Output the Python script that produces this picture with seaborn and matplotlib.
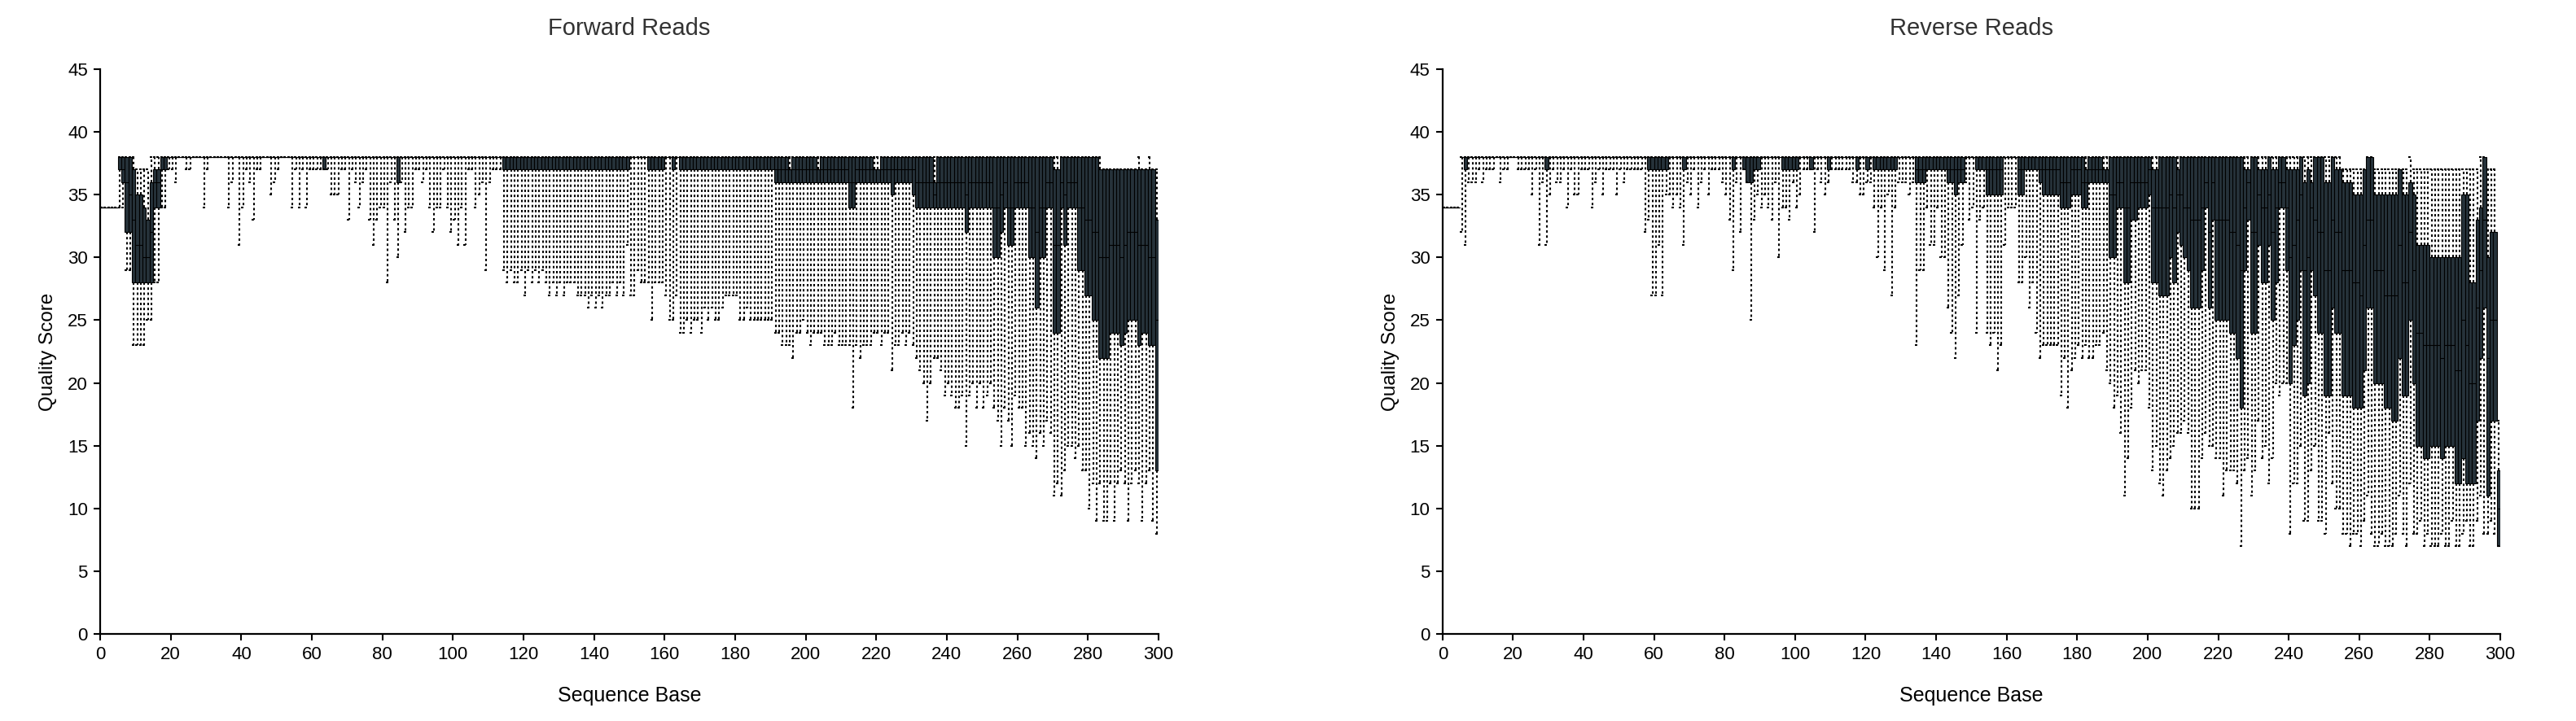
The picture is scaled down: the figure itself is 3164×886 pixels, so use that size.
"""Per-base quality score box plots for forward and reverse reads."""
import numpy as np
import pandas as pd
import matplotlib
matplotlib.use('Agg')
import matplotlib.pyplot as plt
import seaborn as sns

# ---------------------------------------------------------------------------
# Forward reads: 9th / 25th / 50th / 75th / 91st percentile per sequence base
# (20 bases per row, bases 1..300)
# ---------------------------------------------------------------------------
fwd_lo = [
    34, 34, 34, 34, 34, 34, 34, 29, 29, 23, 23, 23, 23, 25, 25, 28, 28, 34, 34, 37,
    37, 36, 38, 38, 37, 37, 38, 38, 38, 34, 37, 38, 38, 38, 38, 38, 34, 36, 38, 31,
    34, 37, 36, 33, 37, 37, 38, 38, 35, 36, 37, 38, 38, 38, 34, 37, 34, 37, 34, 37,
    37, 37, 37, 37, 37, 35, 35, 35, 37, 37, 33, 37, 36, 34, 36, 37, 33, 31, 33, 34,
    34, 28, 36, 33, 30, 36, 32, 34, 34, 37, 37, 36, 37, 34, 32, 34, 34, 37, 34, 32,
    33, 31, 34, 31, 37, 37, 34, 35, 36, 29, 36, 37, 37, 37, 29, 28, 29, 28, 28, 29,
    27, 29, 28, 29, 28, 29, 28, 27, 28, 27, 28, 27, 28, 28, 28, 27, 27, 27, 26, 27,
    26, 27, 26, 27, 27, 28, 27, 28, 27, 31, 27, 27, 29, 28, 28, 28, 25, 28, 28, 28,
    27, 25, 25, 27, 24, 24, 25, 24, 25, 25, 24, 26, 25, 26, 25, 25, 26, 27, 27, 27,
    27, 25, 25, 26, 25, 25, 25, 25, 25, 25, 25, 24, 24, 23, 23, 23, 22, 24, 24, 25,
    24, 23, 24, 24, 24, 23, 23, 23, 24, 23, 23, 23, 23, 18, 23, 22, 23, 23, 23, 24,
    24, 23, 24, 24, 21, 23, 23, 24, 23, 24, 23, 22, 21, 20, 17, 20, 22, 22, 21, 19,
    20, 19, 18, 18, 19, 15, 19, 20, 18, 20, 18, 19, 20, 18, 17, 15, 18, 17, 15, 19,
    18, 18, 15, 16, 15, 14, 16, 15, 17, 16, 11, 12, 11, 13, 15, 15, 14, 15, 13, 13,
    10, 12, 9, 12, 9, 9, 12, 9, 12, 13, 12, 9, 12, 13, 12, 9, 12, 13, 9, 8,
]
fwd_q1 = [
    34, 34, 34, 34, 34, 37, 36, 32, 32, 28, 28, 28, 28, 28, 28, 34, 34, 37, 37, 38,
    38, 38, 38, 38, 38, 38, 38, 38, 38, 38, 38, 38, 38, 38, 38, 38, 38, 38, 38, 38,
    38, 38, 38, 38, 38, 38, 38, 38, 38, 38, 38, 38, 38, 38, 38, 38, 38, 38, 38, 38,
    38, 38, 38, 37, 38, 38, 38, 38, 38, 38, 38, 38, 38, 38, 38, 38, 38, 38, 38, 38,
    38, 38, 38, 38, 36, 38, 38, 38, 38, 38, 38, 38, 38, 38, 38, 38, 38, 38, 38, 38,
    38, 38, 38, 38, 38, 38, 38, 38, 38, 38, 38, 38, 38, 38, 37, 37, 37, 37, 37, 37,
    37, 37, 37, 37, 37, 37, 37, 37, 37, 37, 37, 37, 37, 37, 37, 37, 37, 37, 37, 37,
    37, 37, 37, 37, 37, 37, 37, 37, 37, 37, 38, 38, 38, 38, 38, 37, 37, 37, 37, 37,
    38, 38, 37, 38, 37, 37, 37, 37, 37, 37, 37, 37, 37, 37, 37, 37, 37, 37, 37, 37,
    37, 37, 37, 37, 37, 37, 37, 37, 37, 37, 37, 36, 36, 36, 36, 36, 36, 36, 36, 36,
    36, 36, 36, 36, 36, 36, 36, 36, 36, 36, 36, 36, 34, 34, 36, 36, 36, 36, 36, 36,
    36, 36, 36, 36, 35, 36, 36, 36, 36, 36, 35, 34, 34, 34, 34, 34, 34, 34, 34, 34,
    34, 34, 34, 34, 34, 32, 34, 34, 34, 34, 34, 34, 34, 30, 30, 32, 34, 31, 31, 34,
    34, 34, 34, 30, 30, 26, 30, 30, 34, 34, 24, 24, 34, 31, 34, 34, 34, 29, 29, 27,
    27, 25, 25, 22, 22, 22, 24, 24, 24, 23, 24, 25, 25, 25, 23, 24, 24, 23, 23, 13,
]
fwd_med = [
    34, 34, 34, 34, 34, 38, 37, 36, 35, 33, 31, 31, 30, 30, 32, 36, 36, 38, 38, 38,
    38, 38, 38, 38, 38, 38, 38, 38, 38, 38, 38, 38, 38, 38, 38, 38, 38, 38, 38, 38,
    38, 38, 38, 38, 38, 38, 38, 38, 38, 38, 38, 38, 38, 38, 38, 38, 38, 38, 38, 38,
    38, 38, 38, 38, 38, 38, 38, 38, 38, 38, 38, 38, 38, 38, 38, 38, 38, 38, 38, 38,
    38, 38, 38, 38, 38, 38, 38, 38, 38, 38, 38, 38, 38, 38, 38, 38, 38, 38, 38, 38,
    38, 38, 38, 38, 38, 38, 38, 38, 38, 38, 38, 38, 38, 38, 38, 38, 38, 38, 38, 38,
    38, 38, 38, 38, 38, 38, 38, 38, 38, 38, 38, 38, 38, 38, 38, 38, 38, 38, 38, 38,
    38, 38, 38, 38, 38, 38, 38, 38, 38, 38, 38, 38, 38, 38, 38, 38, 38, 38, 38, 38,
    38, 38, 38, 38, 38, 38, 38, 38, 38, 38, 38, 38, 38, 38, 38, 38, 38, 38, 38, 38,
    38, 38, 38, 38, 38, 38, 38, 38, 38, 38, 38, 37, 37, 37, 37, 37, 37, 37, 37, 37,
    37, 37, 37, 37, 37, 37, 37, 37, 37, 37, 37, 37, 36, 36, 37, 37, 37, 37, 37, 37,
    37, 37, 37, 37, 37, 37, 37, 37, 37, 37, 37, 36, 36, 36, 36, 36, 35, 36, 36, 36,
    36, 36, 36, 36, 36, 35, 36, 36, 36, 36, 36, 36, 36, 34, 34, 35, 36, 34, 34, 36,
    36, 36, 36, 34, 34, 32, 34, 34, 36, 36, 31, 31, 36, 35, 36, 36, 36, 34, 34, 33,
    33, 32, 32, 30, 30, 30, 31, 31, 31, 30, 31, 32, 32, 32, 31, 31, 31, 30, 30, 25,
]
fwd_q3 = [
    34, 34, 34, 34, 34, 38, 38, 38, 38, 37, 35, 35, 34, 33, 36, 37, 37, 38, 38, 38,
    38, 38, 38, 38, 38, 38, 38, 38, 38, 38, 38, 38, 38, 38, 38, 38, 38, 38, 38, 38,
    38, 38, 38, 38, 38, 38, 38, 38, 38, 38, 38, 38, 38, 38, 38, 38, 38, 38, 38, 38,
    38, 38, 38, 38, 38, 38, 38, 38, 38, 38, 38, 38, 38, 38, 38, 38, 38, 38, 38, 38,
    38, 38, 38, 38, 38, 38, 38, 38, 38, 38, 38, 38, 38, 38, 38, 38, 38, 38, 38, 38,
    38, 38, 38, 38, 38, 38, 38, 38, 38, 38, 38, 38, 38, 38, 38, 38, 38, 38, 38, 38,
    38, 38, 38, 38, 38, 38, 38, 38, 38, 38, 38, 38, 38, 38, 38, 38, 38, 38, 38, 38,
    38, 38, 38, 38, 38, 38, 38, 38, 38, 38, 38, 38, 38, 38, 38, 38, 38, 38, 38, 38,
    38, 38, 38, 38, 38, 38, 38, 38, 38, 38, 38, 38, 38, 38, 38, 38, 38, 38, 38, 38,
    38, 38, 38, 38, 38, 38, 38, 38, 38, 38, 38, 38, 38, 38, 38, 37, 38, 38, 38, 38,
    38, 38, 38, 37, 38, 38, 38, 38, 38, 38, 38, 38, 38, 38, 38, 38, 38, 38, 38, 37,
    37, 38, 38, 38, 38, 38, 38, 38, 38, 38, 38, 38, 38, 38, 38, 38, 36, 38, 38, 38,
    38, 38, 38, 38, 38, 38, 38, 38, 38, 38, 38, 38, 38, 38, 38, 38, 38, 38, 38, 38,
    38, 38, 38, 38, 38, 38, 38, 38, 38, 38, 37, 37, 38, 38, 38, 38, 38, 38, 38, 38,
    38, 38, 38, 37, 37, 37, 37, 37, 37, 37, 37, 37, 37, 37, 37, 37, 37, 37, 37, 33,
]
fwd_hi = [
    34, 34, 34, 34, 34, 38, 38, 38, 38, 38, 37, 37, 37, 37, 38, 38, 38, 38, 38, 38,
    38, 38, 38, 38, 38, 38, 38, 38, 38, 38, 38, 38, 38, 38, 38, 38, 38, 38, 38, 38,
    38, 38, 38, 38, 38, 38, 38, 38, 38, 38, 38, 38, 38, 38, 38, 38, 38, 38, 38, 38,
    38, 38, 38, 38, 38, 38, 38, 38, 38, 38, 38, 38, 38, 38, 38, 38, 38, 38, 38, 38,
    38, 38, 38, 38, 38, 38, 38, 38, 38, 38, 38, 38, 38, 38, 38, 38, 38, 38, 38, 38,
    38, 38, 38, 38, 38, 38, 38, 38, 38, 38, 38, 38, 38, 38, 38, 38, 38, 38, 38, 38,
    38, 38, 38, 38, 38, 38, 38, 38, 38, 38, 38, 38, 38, 38, 38, 38, 38, 38, 38, 38,
    38, 38, 38, 38, 38, 38, 38, 38, 38, 38, 38, 38, 38, 38, 38, 38, 38, 38, 38, 38,
    38, 38, 38, 38, 38, 38, 38, 38, 38, 38, 38, 38, 38, 38, 38, 38, 38, 38, 38, 38,
    38, 38, 38, 38, 38, 38, 38, 38, 38, 38, 38, 38, 38, 38, 38, 38, 38, 38, 38, 38,
    38, 38, 38, 38, 38, 38, 38, 38, 38, 38, 38, 38, 38, 38, 38, 38, 38, 38, 38, 38,
    38, 38, 38, 38, 38, 38, 38, 38, 38, 38, 38, 38, 38, 38, 38, 38, 38, 38, 38, 38,
    38, 38, 38, 38, 38, 38, 38, 38, 38, 38, 38, 38, 38, 38, 38, 38, 38, 38, 38, 38,
    38, 38, 38, 38, 38, 38, 38, 38, 38, 38, 38, 38, 38, 38, 38, 38, 38, 38, 38, 38,
    38, 38, 38, 38, 37, 37, 37, 37, 37, 37, 37, 37, 37, 37, 38, 37, 37, 38, 37, 37,
]

# ---------------------------------------------------------------------------
# Reverse reads
# ---------------------------------------------------------------------------
rev_lo = [
    34, 34, 34, 34, 34, 32, 31, 36, 36, 36, 37, 36, 37, 37, 37, 38, 36, 37, 37, 38,
    38, 37, 37, 37, 37, 35, 37, 31, 36, 31, 35, 37, 36, 36, 37, 34, 37, 35, 35, 37,
    37, 37, 34, 36, 37, 35, 37, 37, 37, 35, 37, 36, 37, 37, 37, 37, 37, 32, 33, 27,
    27, 31, 27, 35, 35, 34, 35, 34, 31, 36, 35, 37, 34, 36, 37, 35, 37, 37, 37, 36,
    35, 33, 29, 36, 32, 37, 36, 25, 33, 35, 34, 35, 34, 33, 36, 30, 34, 34, 33, 36,
    34, 35, 37, 37, 37, 32, 37, 36, 35, 36, 37, 37, 37, 37, 37, 37, 36, 36, 35, 35,
    36, 36, 34, 30, 34, 29, 35, 27, 34, 36, 36, 36, 35, 36, 23, 29, 29, 34, 31, 31,
    34, 30, 30, 26, 24, 22, 27, 31, 36, 33, 34, 24, 33, 34, 24, 23, 24, 21, 23, 31,
    34, 34, 34, 28, 28, 30, 26, 28, 24, 22, 23, 23, 23, 23, 23, 19, 22, 18, 21, 22,
    23, 22, 23, 22, 22, 23, 23, 24, 21, 20, 18, 19, 16, 11, 14, 18, 21, 20, 21, 21,
    18, 13, 15, 12, 11, 13, 14, 15, 16, 16, 17, 16, 10, 10, 10, 14, 16, 15, 15, 14,
    14, 11, 13, 13, 13, 12, 7, 13, 14, 11, 13, 17, 14, 15, 12, 14, 20, 19, 20, 20,
    8, 12, 12, 15, 9, 9, 13, 15, 9, 9, 8, 16, 12, 10, 10, 8, 8, 7, 8, 8,
    7, 9, 11, 8, 7, 7, 8, 7, 7, 7, 8, 11, 8, 7, 12, 8, 8, 9, 7, 8,
    7, 7, 7, 8, 7, 7, 9, 7, 7, 8, 9, 7, 7, 9, 11, 8, 8, 9, 8, 7,
]
rev_q1 = [
    34, 34, 34, 34, 34, 38, 37, 38, 38, 38, 38, 38, 38, 38, 38, 38, 38, 38, 38, 38,
    38, 38, 38, 38, 38, 38, 38, 38, 38, 37, 38, 38, 38, 38, 38, 38, 38, 38, 38, 38,
    38, 38, 38, 38, 38, 38, 38, 38, 38, 38, 38, 38, 38, 38, 38, 38, 38, 38, 37, 37,
    37, 37, 37, 37, 38, 38, 38, 38, 37, 38, 38, 38, 38, 38, 38, 38, 38, 38, 38, 38,
    38, 38, 37, 38, 38, 37, 36, 36, 37, 37, 38, 38, 38, 38, 38, 38, 37, 37, 37, 37,
    37, 38, 38, 38, 37, 38, 38, 38, 38, 37, 38, 38, 38, 38, 38, 38, 38, 37, 38, 38,
    37, 38, 37, 37, 37, 37, 37, 37, 37, 38, 38, 38, 38, 38, 36, 36, 36, 37, 37, 37,
    37, 37, 37, 36, 36, 35, 36, 36, 38, 38, 38, 37, 37, 37, 35, 35, 35, 35, 35, 38,
    38, 38, 38, 35, 35, 37, 37, 37, 37, 36, 35, 35, 35, 35, 35, 34, 34, 34, 35, 35,
    35, 34, 34, 36, 36, 36, 36, 36, 36, 30, 30, 34, 34, 28, 28, 33, 33, 34, 34, 34,
    35, 28, 28, 27, 27, 27, 30, 28, 32, 31, 30, 29, 26, 26, 26, 29, 34, 26, 33, 25,
    25, 25, 25, 24, 24, 22, 18, 29, 33, 24, 24, 31, 28, 28, 31, 25, 28, 34, 34, 29,
    20, 23, 25, 29, 19, 20, 29, 27, 24, 24, 19, 19, 26, 24, 24, 19, 19, 19, 18, 18,
    18, 21, 26, 26, 20, 20, 20, 18, 18, 17, 17, 22, 19, 19, 25, 20, 15, 15, 14, 14,
    15, 15, 15, 14, 15, 15, 15, 12, 12, 14, 12, 12, 12, 17, 22, 26, 11, 17, 17, 7,
]
rev_med = [
    34, 34, 34, 34, 34, 38, 38, 38, 38, 38, 38, 38, 38, 38, 38, 38, 38, 38, 38, 38,
    38, 38, 38, 38, 38, 38, 38, 38, 38, 38, 38, 38, 38, 38, 38, 38, 38, 38, 38, 38,
    38, 38, 38, 38, 38, 38, 38, 38, 38, 38, 38, 38, 38, 38, 38, 38, 38, 38, 38, 38,
    38, 38, 38, 38, 38, 38, 38, 38, 38, 38, 38, 38, 38, 38, 38, 38, 38, 38, 38, 38,
    38, 38, 38, 38, 38, 38, 38, 38, 38, 38, 38, 38, 38, 38, 38, 38, 38, 38, 38, 38,
    38, 38, 38, 38, 38, 38, 38, 38, 38, 38, 38, 38, 38, 38, 38, 38, 38, 38, 38, 38,
    38, 38, 38, 38, 38, 38, 38, 38, 38, 38, 38, 38, 38, 38, 37, 37, 37, 38, 38, 38,
    38, 38, 38, 37, 37, 37, 37, 37, 38, 38, 38, 38, 38, 38, 37, 37, 37, 37, 37, 38,
    38, 38, 38, 37, 37, 38, 38, 38, 38, 37, 37, 37, 37, 37, 37, 36, 36, 36, 37, 37,
    37, 36, 36, 37, 37, 37, 37, 37, 37, 35, 35, 36, 36, 34, 34, 36, 36, 36, 36, 36,
    37, 34, 34, 34, 34, 34, 35, 34, 35, 35, 34, 34, 33, 33, 33, 34, 36, 32, 36, 33,
    33, 33, 33, 32, 32, 31, 29, 34, 36, 32, 32, 35, 34, 34, 35, 32, 34, 36, 36, 34,
    30, 31, 33, 35, 29, 30, 34, 33, 32, 32, 29, 29, 33, 32, 32, 29, 29, 29, 28, 28,
    27, 31, 33, 33, 29, 29, 29, 27, 27, 27, 27, 31, 28, 28, 32, 29, 24, 24, 23, 23,
    23, 23, 23, 22, 23, 23, 23, 21, 21, 25, 23, 20, 20, 26, 29, 33, 22, 25, 25, 10,
]
rev_q3 = [
    34, 34, 34, 34, 34, 38, 38, 38, 38, 38, 38, 38, 38, 38, 38, 38, 38, 38, 38, 38,
    38, 38, 38, 38, 38, 38, 38, 38, 38, 38, 38, 38, 38, 38, 38, 38, 38, 38, 38, 38,
    38, 38, 38, 38, 38, 38, 38, 38, 38, 38, 38, 38, 38, 38, 38, 38, 38, 38, 38, 38,
    38, 38, 38, 38, 38, 38, 38, 38, 38, 38, 38, 38, 38, 38, 38, 38, 38, 38, 38, 38,
    38, 38, 38, 38, 38, 38, 38, 38, 38, 38, 38, 38, 38, 38, 38, 38, 38, 38, 38, 38,
    38, 38, 38, 38, 38, 38, 38, 38, 38, 38, 38, 38, 38, 38, 38, 38, 38, 38, 38, 38,
    38, 38, 38, 38, 38, 38, 38, 38, 38, 38, 38, 38, 38, 38, 38, 38, 38, 38, 38, 38,
    38, 38, 38, 38, 38, 38, 38, 38, 38, 38, 38, 38, 38, 38, 38, 38, 38, 38, 38, 38,
    38, 38, 38, 38, 38, 38, 38, 38, 38, 38, 38, 38, 38, 38, 38, 38, 38, 38, 38, 38,
    38, 38, 37, 38, 38, 38, 38, 37, 37, 38, 38, 38, 38, 38, 38, 38, 38, 38, 38, 38,
    38, 37, 37, 38, 38, 38, 38, 38, 37, 38, 38, 38, 38, 38, 38, 38, 38, 38, 38, 38,
    38, 38, 38, 38, 38, 38, 38, 37, 37, 38, 38, 37, 37, 37, 38, 37, 37, 38, 38, 37,
    37, 37, 37, 38, 36, 37, 36, 38, 38, 38, 36, 36, 38, 37, 37, 36, 36, 36, 35, 35,
    35, 37, 38, 38, 35, 35, 35, 35, 35, 35, 35, 37, 35, 35, 36, 35, 31, 31, 31, 31,
    30, 30, 30, 30, 30, 30, 30, 30, 30, 35, 35, 28, 28, 33, 34, 38, 30, 32, 32, 13,
]
rev_hi = [
    34, 34, 34, 34, 34, 38, 38, 38, 38, 38, 38, 38, 38, 38, 38, 38, 38, 38, 38, 38,
    38, 38, 38, 38, 38, 38, 38, 38, 38, 38, 38, 38, 38, 38, 38, 38, 38, 38, 38, 38,
    38, 38, 38, 38, 38, 38, 38, 38, 38, 38, 38, 38, 38, 38, 38, 38, 38, 38, 38, 38,
    38, 38, 38, 38, 38, 38, 38, 38, 38, 38, 38, 38, 38, 38, 38, 38, 38, 38, 38, 38,
    38, 38, 38, 38, 38, 38, 38, 38, 38, 38, 38, 38, 38, 38, 38, 38, 38, 38, 38, 38,
    38, 38, 38, 38, 38, 38, 38, 38, 38, 38, 38, 38, 38, 38, 38, 38, 38, 38, 38, 38,
    38, 38, 38, 38, 38, 38, 38, 38, 38, 38, 38, 38, 38, 38, 38, 38, 38, 38, 38, 38,
    38, 38, 38, 38, 38, 38, 38, 38, 38, 38, 38, 38, 38, 38, 38, 38, 38, 38, 38, 38,
    38, 38, 38, 38, 38, 38, 38, 38, 38, 38, 38, 38, 38, 38, 38, 38, 38, 38, 38, 38,
    38, 38, 38, 38, 38, 38, 38, 38, 38, 38, 38, 38, 38, 38, 38, 38, 38, 38, 38, 38,
    38, 38, 38, 38, 38, 38, 38, 38, 38, 38, 38, 38, 38, 38, 38, 38, 38, 38, 38, 38,
    38, 38, 38, 38, 38, 38, 38, 38, 38, 38, 38, 38, 38, 38, 38, 38, 38, 38, 38, 38,
    38, 38, 38, 38, 38, 38, 38, 38, 38, 38, 38, 38, 38, 38, 38, 37, 37, 37, 37, 37,
    37, 37, 38, 38, 37, 37, 37, 37, 37, 37, 37, 37, 37, 37, 38, 37, 37, 37, 37, 37,
    37, 37, 37, 37, 37, 37, 37, 37, 37, 37, 37, 37, 37, 37, 38, 38, 37, 37, 37, 17,
]

panel_titles = ['Forward Reads', 'Reverse Reads']
x_ticks = list(range(0, 301, 20))
y_ticks = list(range(0, 46, 5))

BOX_FILL = '#26323a'
DOTTED = (0, (1.4, 1.6))

sns.set_theme(style='ticks')
plt.rcParams['font.family'] = ['Liberation Sans', 'DejaVu Sans']


def draw_panel(ax, lo, q1, med, q3, hi, title):
    """Draw one box-per-base quality panel from percentile lists."""
    df = pd.DataFrame({'whislo': lo, 'q1': q1, 'med': med, 'q3': q3, 'whishi': hi})
    df['base'] = np.arange(1, len(df) + 1)
    stats = [dict(whislo=r.whislo, q1=r.q1, med=r.med, q3=r.q3,
                  whishi=r.whishi, fliers=[]) for r in df.itertuples()]
    ax.bxp(stats, positions=df['base'] - 0.5, widths=1.0, capwidths=1.0,
           patch_artist=True, showfliers=False, manage_ticks=False,
           boxprops=dict(facecolor=BOX_FILL, edgecolor='black', linewidth=0.8),
           whiskerprops=dict(color='black', linewidth=1.5, linestyle=DOTTED),
           capprops=dict(color='black', linewidth=1.5, linestyle=DOTTED),
           medianprops=dict(color='black', linewidth=0.8))

    ax.set_xlim(0, 300)
    ax.set_ylim(0, 45)
    ax.set_xticks(x_ticks)
    ax.set_yticks(y_ticks)
    ax.tick_params(axis='both', labelsize=16, length=6, width=1.5,
                   color='black', labelcolor='black', pad=5)
    for side in ('left', 'bottom'):
        ax.spines[side].set_linewidth(1.6)
        ax.spines[side].set_color('black')
    sns.despine(ax=ax)
    ax.grid(False)
    ax.set_xlabel('Sequence Base', fontsize=18, color='black', labelpad=20)
    ax.set_ylabel('Quality Score', fontsize=17.5, color='black', labelpad=9)
    ax.set_title(title, fontsize=21, color='#333333', pad=30)


fig = plt.figure(figsize=(31.64, 8.86), dpi=100)
ax_f = fig.add_axes([0.0389, 0.1208, 0.4108, 0.7833])
ax_r = fig.add_axes([0.5600, 0.1208, 0.4106, 0.7833])

draw_panel(ax_f, fwd_lo, fwd_q1, fwd_med, fwd_q3, fwd_hi, panel_titles[0])
draw_panel(ax_r, rev_lo, rev_q1, rev_med, rev_q3, rev_hi, panel_titles[1])

fig.savefig('out.png', dpi=100, facecolor='white')
plt.close(fig)
